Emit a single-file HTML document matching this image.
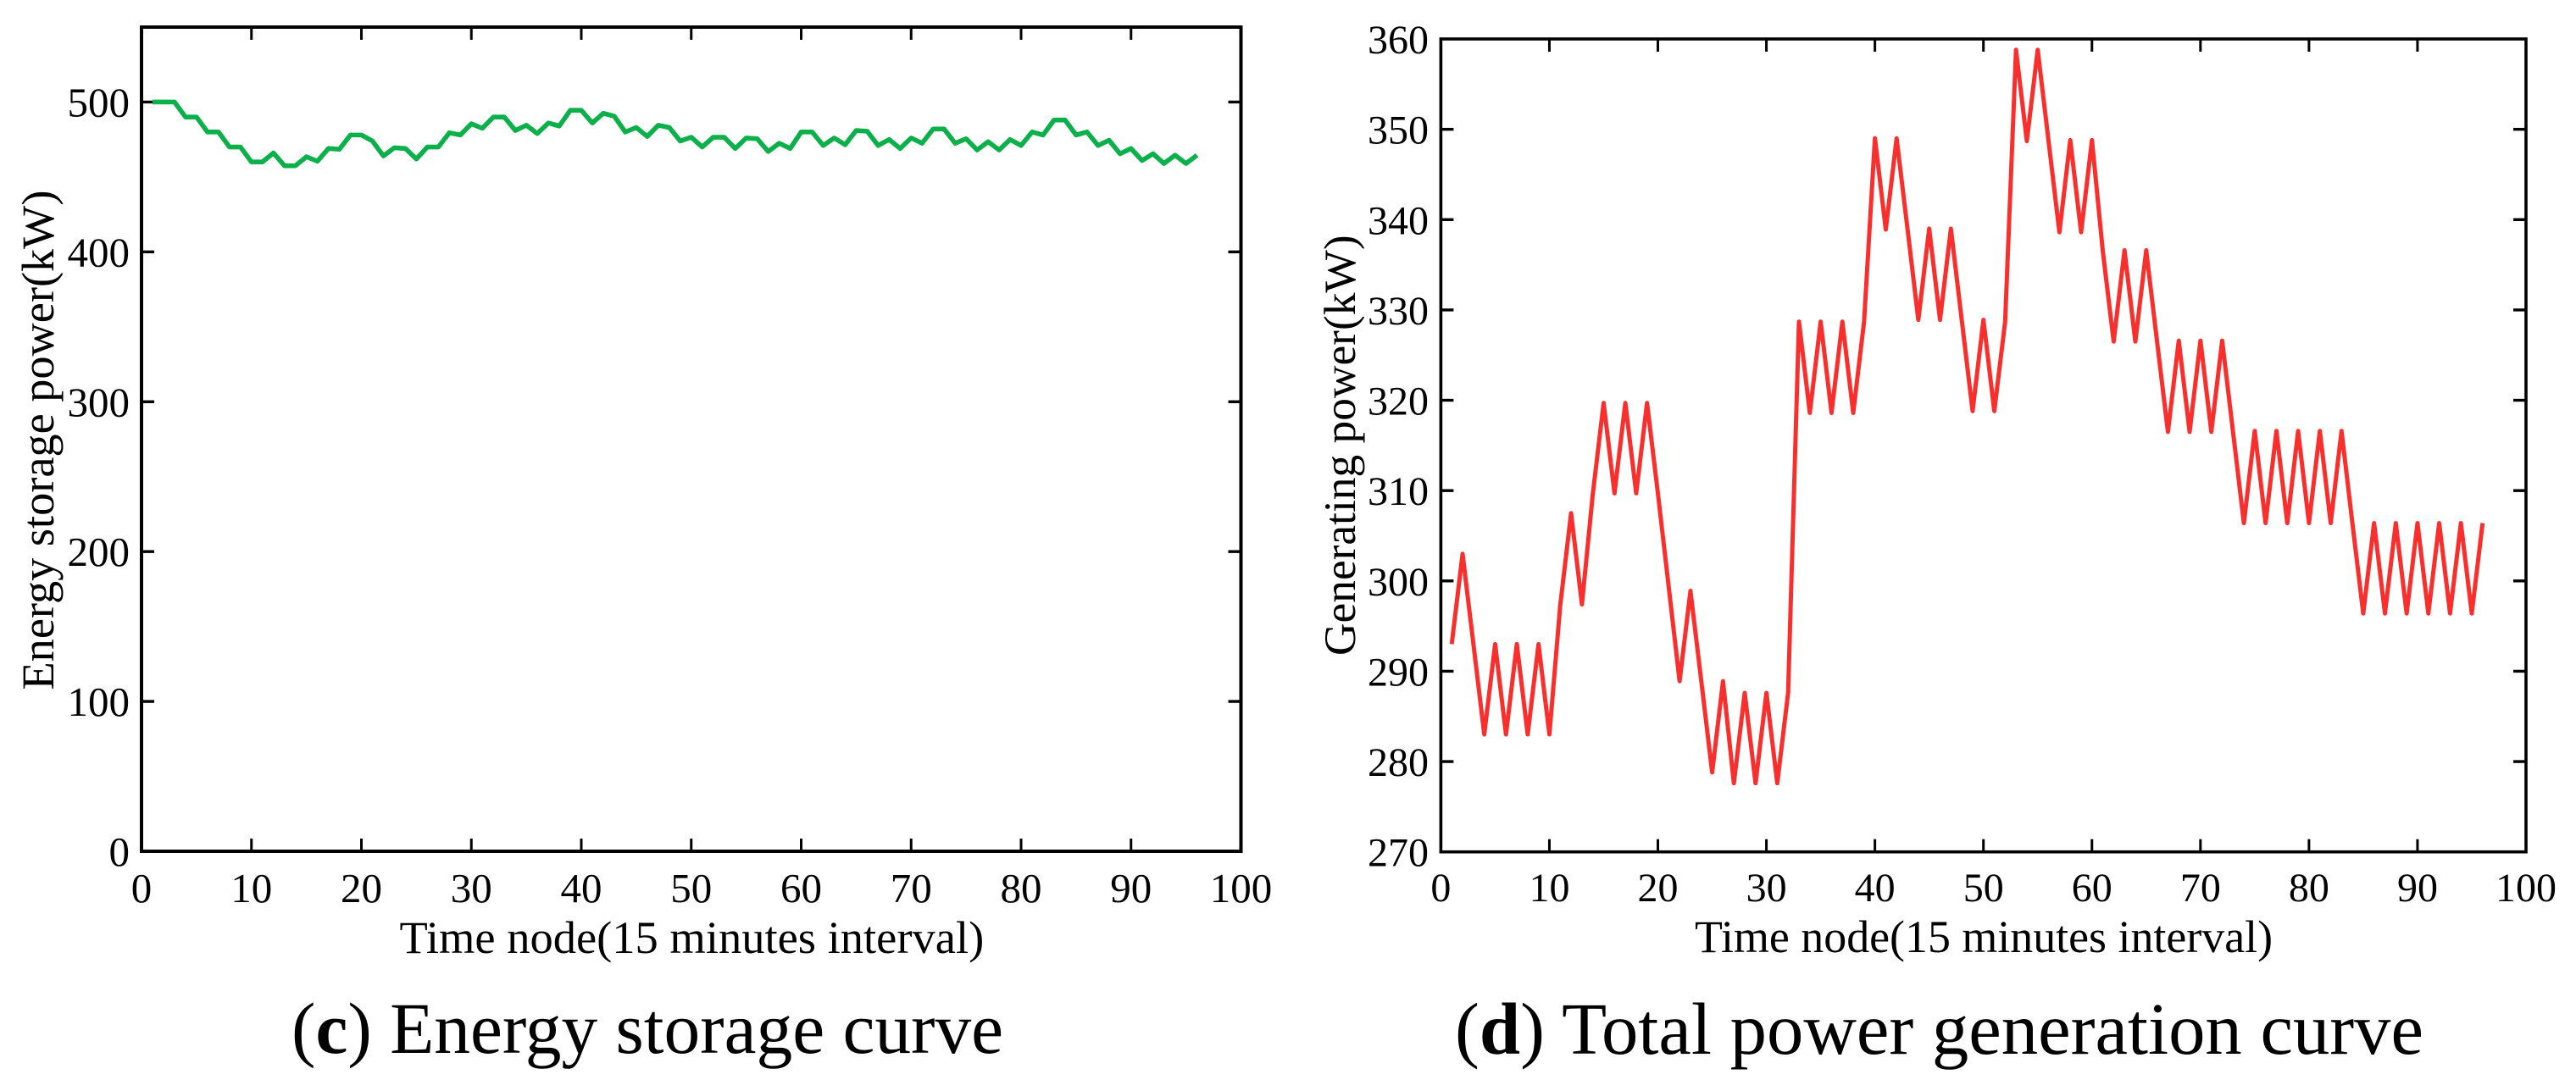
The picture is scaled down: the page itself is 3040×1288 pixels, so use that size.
<!DOCTYPE html>
<html lang="en">
<head>
<meta charset="utf-8">
<title>Energy storage and total power generation curves</title>
<style>
html,body{margin:0;padding:0;background:#fff;width:3040px;height:1288px;overflow:hidden}
svg{display:block}
text{font-family:"Liberation Serif",serif;fill:#000}
</style>
</head>
<body>
<svg id="figure" xmlns="http://www.w3.org/2000/svg" width="3040" height="1288" viewBox="0 0 3040 1288">
  <rect width="3040" height="1288" fill="#fff"/>
  <g id="panel-c">
    <rect x="167" y="32" width="1297.5" height="973" fill="none" stroke="#000" stroke-width="4"/>
    <text x="471.5" y="1125" font-size="54.5">Time node(15 minutes interval)</text>
    <text transform="translate(63,814.5) rotate(-90)" font-size="54.3">Energy storage power(kW)</text>
    <text x="344" y="1243" font-size="85.4">(<tspan font-weight="bold">c</tspan>) Energy storage curve</text>
  </g>
  <g id="panel-d">
    <rect x="1700.4" y="46" width="1280.6" height="959.7" fill="none" stroke="#000" stroke-width="3.6"/>
    <text x="2000" y="1124" font-size="53.9">Time node(15 minutes interval)</text>
    <text transform="translate(1599,774) rotate(-90)" font-size="53.4">Generating power(kW)</text>
    <text x="1717" y="1244" font-size="86.7">(<tspan font-weight="bold">d</tspan>) Total power generation curve</text>
  </g>
</svg>
<script>
const xTickLabels = [0, 10, 20, 30, 40, 50, 60, 70, 80, 90, 100];
const storageYTicks = [0, 100, 200, 300, 400, 500];
const generationYTicks = [270, 280, 290, 300, 310, 320, 330, 340, 350, 360];
const storageValues = [
  500, 500, 500, 490, 490, 480, 480, 470, 470, 460,
  460, 466, 457.5, 457.5, 463.5, 460.5, 469, 468.5, 478, 478,
  474, 464, 469.5, 469, 462, 470, 470, 479.5, 478, 485.5,
  482.5, 490, 490, 481, 484.5, 479, 486, 484, 494.5, 494.5,
  486, 492.5, 490.5, 480, 483, 477, 484.5, 483, 474, 476.5,
  470, 476.5, 476.5, 469, 476, 475.5, 467, 472.5, 469, 480,
  480, 471, 476, 471.5, 481, 480.5, 471, 475, 469, 476,
  472.5, 482, 482, 472.5, 475.5, 468, 473.5, 468, 475, 471,
  480, 478, 488, 488, 478, 480, 471, 474.5, 465.5, 469,
  461, 465.5, 459, 464.5, 459, 464.5
];
const generationValues = [
  293, 303, 293, 283, 293, 283, 293, 283, 293, 283,
  297.3, 307.5, 297.4, 309.6, 319.7, 309.7, 319.7, 309.7, 319.7, 309.7,
  299.3, 288.9, 298.9, 288.9, 278.8, 288.9, 277.6, 287.6, 277.6, 287.6,
  277.6, 287.6, 328.7, 318.6, 328.7, 318.6, 328.7, 318.6, 328.7, 349,
  338.9, 349, 339, 328.9, 339, 328.9, 339, 328.9, 318.8, 328.9,
  318.8, 328.7, 358.8, 348.7, 358.8, 348.7, 338.6, 348.8, 338.6, 348.8,
  336.5, 326.5, 336.6, 326.5, 336.6, 326.5, 316.5, 326.6, 316.5, 326.6,
  316.5, 326.6, 316.5, 306.4, 316.6, 306.4, 316.6, 306.4, 316.6, 306.4,
  316.6, 306.4, 316.6, 306.4, 296.4, 306.4, 296.4, 306.4, 296.4, 306.4,
  296.4, 306.4, 296.4, 306.4, 296.4, 306.4
];

const SVG_NS = 'http://www.w3.org/2000/svg';

function storageX(v) { return 167 + (v / 100) * 1297.5; }
function storageY(v) { return 1005 - (v / 550) * 973; }
function generationX(v) { return 1700.4 + (v / 100) * 1280.6; }
function generationY(v) { return 1005.7 - ((v - 270) / 90) * 959.7; }

function drawPanel(groupId, suffix, xFn, yFn, yTicks, values, color, width, cfg) {
  const group = document.getElementById(groupId);
  const left = xFn(0), right = xFn(100);

  xTickLabels.forEach(function (t) {
    const px = xFn(t);
    if (t !== 0 && t !== 100) {
      [[cfg.bottom, cfg.bottom - 15], [cfg.top, cfg.top + 15]].forEach(function (pair) {
        const tick = document.createElementNS(SVG_NS, 'line');
        
        
        tick.setAttribute('x1', px);
        tick.setAttribute('x2', px);
        tick.setAttribute('y1', pair[0]);
        tick.setAttribute('y2', pair[1]);
        tick.setAttribute('stroke', '#000');
        tick.setAttribute('stroke-width', '3');
        group.appendChild(tick);
      });
    }
    const label = document.createElementNS(SVG_NS, 'text');
    
    
    label.setAttribute('x', px);
    label.setAttribute('y', cfg.xLabelBase);
    label.setAttribute('font-size', cfg.tickFont);
    label.setAttribute('text-anchor', 'middle');
    label.textContent = t;
    group.appendChild(label);
  });

  yTicks.forEach(function (t) {
    const py = yFn(t);
    if (py > cfg.top + 2 && py < cfg.bottom - 2) {
      [[left, left + 15], [right, right - 15]].forEach(function (pair) {
        const tick = document.createElementNS(SVG_NS, 'line');
        
        
        tick.setAttribute('x1', pair[0]);
        tick.setAttribute('x2', pair[1]);
        tick.setAttribute('y1', py);
        tick.setAttribute('y2', py);
        tick.setAttribute('stroke', '#000');
        tick.setAttribute('stroke-width', '3.4');
        group.appendChild(tick);
      });
    }
    const label = document.createElementNS(SVG_NS, 'text');
    
    
    label.setAttribute('x', cfg.yLabelRight);
    label.setAttribute('y', py + 17);
    label.setAttribute('font-size', cfg.tickFont);
    label.setAttribute('text-anchor', 'end');
    label.textContent = t;
    group.appendChild(label);
  });

  const points = values.map(function (v, i) {
    return xFn(i + 1).toFixed(2) + ',' + yFn(v).toFixed(2);
  }).join(' ');
  const line = document.createElementNS(SVG_NS, 'polyline');
  
  
  line.setAttribute('points', points);
  line.setAttribute('fill', 'none');
  line.setAttribute('stroke', color);
  line.setAttribute('stroke-width', width);
  line.setAttribute('stroke-linejoin', 'round');
  group.appendChild(line);
}

drawPanel('panel-c', 'energy-storage', storageX, storageY, storageYTicks, storageValues, '#0bb04a', 5.6,
  { top: 32, bottom: 1005, xLabelBase: 1065, yLabelRight: 153, tickFont: 49 });
drawPanel('panel-d', 'total-generation', generationX, generationY, generationYTicks, generationValues, '#f92f2d', 5,
  { top: 46, bottom: 1005.7, xLabelBase: 1064, yLabelRight: 1686, tickFont: 48 });
</script>
</body>
</html>
